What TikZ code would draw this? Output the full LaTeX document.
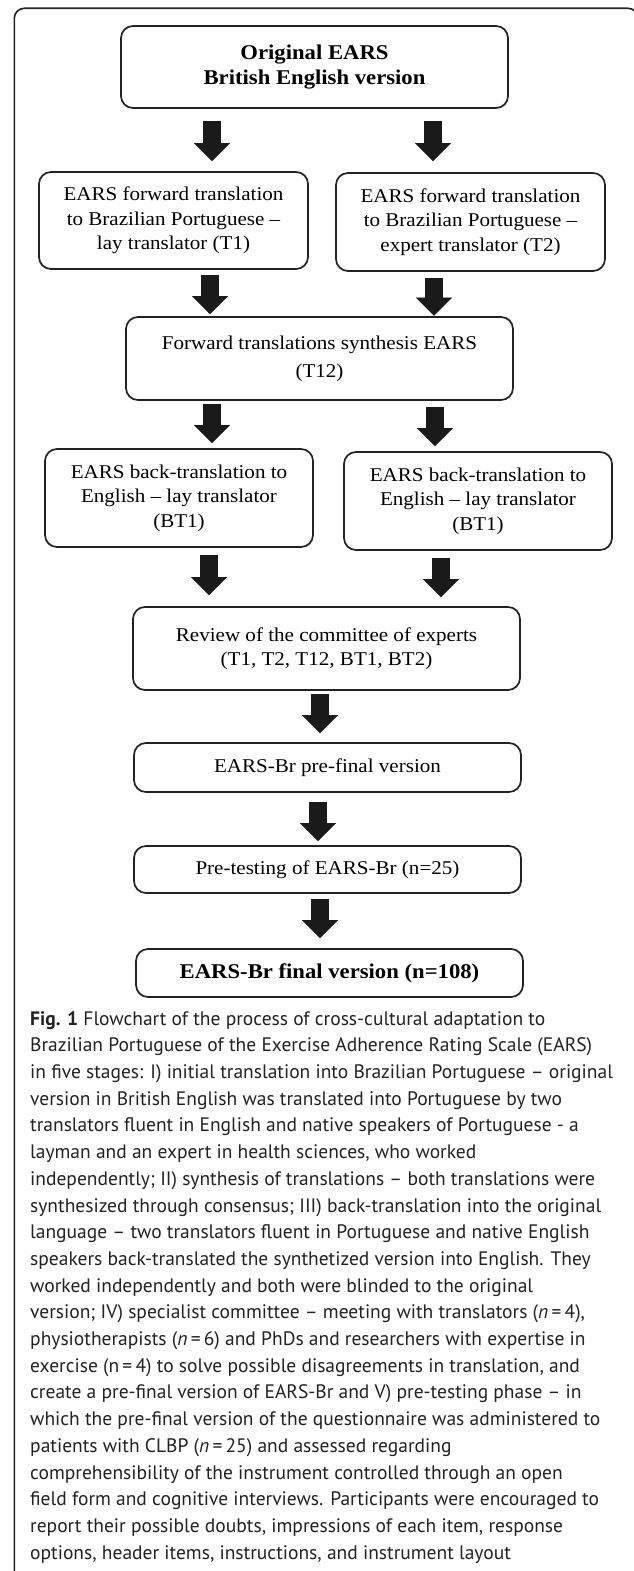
\documentclass[tikz,border=0pt]{standalone}
\usepackage{fontspec}
\setmainfont{Liberation Serif}
\newfontfamily\boxfont[FakeStretch=1.08,Ligatures=TeX]{Liberation Serif}
\newfontfamily\capfont{PT Sans}
\usetikzlibrary{arrows.meta}
\definecolor{ink}{HTML}{1A1A1A}
\definecolor{edge}{HTML}{222222}
\definecolor{captxt}{HTML}{222222}
\begin{document}
\begin{tikzpicture}[x=1pt,y=-1pt,
  box/.style={draw=edge, line width=1.7pt, rounded corners=12pt, inner sep=0pt, align=center,
    font=\boxfont\fontsize{19.5}{24.5}\selectfont},
  boldbox/.style={box, font=\boxfont\bfseries\fontsize{21}{25}\selectfont},
  blk/.style={draw=ink, line width=18pt, -{Triangle[width=36pt,length=18pt,line width=0.01pt,fill=ink]}},
  frame/.style={draw=edge, line width=1.6pt, rounded corners=10pt},
  captext/.style={anchor=north west, inner sep=0pt, align=left, text=captxt,
    font=\capfont\fontsize{19.5}{26.7}\selectfont}
]
\useasboundingbox (0,0) rectangle (633,1571);
\fill[white] (0,0) rectangle (633,1571);
\draw[frame] (14.3,1600) -- (14.3,8.3) -- (638,8.3) -- (638,1600);

\node[boldbox, minimum width=387pt, minimum height=82pt] (top) at (314.5,67) {Original EARS\\British English version};
\node[box, minimum width=269pt, minimum height=97pt] (t1) at (173.5,220.5) {EARS forward translation\\to Brazilian Portuguese –\\lay translator (T1)};
\node[box, minimum width=269pt, minimum height=98pt] (t2) at (470.5,222) {EARS forward translation\\to Brazilian Portuguese –\\expert translator (T2)};
\node[box, minimum width=387pt, minimum height=83pt] (t12) at (319.5,358.5) {Forward translations synthesis EARS\\[3.5pt](T12)};
\node[box, minimum width=268pt, minimum height=98pt] (bt1) at (179,498) {EARS back-translation to\\English – lay translator\\(BT1)};
\node[box, minimum width=268pt, minimum height=98pt] (bt2) at (478,501) {EARS back-translation to\\English – lay translator\\(BT1)};
\node[box, minimum width=387pt, minimum height=83pt] (rev) at (326.5,648.5) {Review of the committee of experts\\(T1, T2, T12, BT1, BT2)};
\node[box, minimum width=387pt, minimum height=49pt] (pre) at (327.5,767.5) {EARS-Br pre-final version};
\node[box, minimum width=387pt, minimum height=47pt] (ptest) at (327.5,869.5) {Pre-testing of EARS-Br (n=25)};
\node[boldbox, minimum width=387pt, minimum height=48pt] (fin) at (329.5,973) {EARS-Br final version (n=108)};

\coordinate (x1l) at (212,0);
\coordinate (x1r) at (433,0);
\coordinate (x2l) at (210,0);
\coordinate (x2r) at (434,0);
\coordinate (x3l) at (212,0);
\coordinate (x3r) at (435,0);
\coordinate (x4l) at (209,0);
\coordinate (x4r) at (441,0);
\coordinate (x5) at (320,0);
\coordinate (x6) at (318,0);
\coordinate (x7) at (320,0);

\draw[blk, shorten <=12pt, shorten >=10pt] (top.south -| x1l) -- (t1.north -| x1l);
\draw[blk, shorten <=12pt, shorten >=11pt] (top.south -| x1r) -- (t2.north -| x1r);
\draw[blk, shorten <=5pt, shorten >=2pt] (t1.south -| x2l) -- (t12.north -| x2l);
\draw[blk, shorten <=6pt, shorten >=0.5pt] (t2.south -| x2r) -- (t12.north -| x2r);
\draw[blk, shorten <=3pt, shorten >=5pt] (t12.south -| x3l) -- (bt1.north -| x3l);
\draw[blk, shorten <=6pt, shorten >=5pt] (t12.south -| x3r) -- (bt2.north -| x3r);
\draw[blk, shorten <=7pt, shorten >=11pt] (bt1.south -| x4l) -- (rev.north -| x4l);
\draw[blk, shorten <=7pt, shorten >=9pt] (bt2.south -| x4r) -- (rev.north -| x4r);
\draw[blk, shorten <=3pt, shorten >=9pt] (rev.south -| x5) -- (pre.north -| x5);
\draw[blk, shorten <=9pt, shorten >=4pt] (pre.south -| x6) -- (ptest.north -| x6);
\draw[blk, shorten <=5pt, shorten >=10pt] (ptest.south -| x7) -- (fin.north -| x7);

\node[captext] (cap) at (30,1011) {\textbf{Fig. 1} Flowchart of the process of cross-cultural adaptation to\\
Brazilian Portuguese of the Exercise Adherence Rating Scale (EARS)\\
in five stages: I) initial translation into Brazilian Portuguese – original\\
version in British English was translated into Portuguese by two\\
translators fluent in English and native speakers of Portuguese - a\\
layman and an expert in health sciences, who worked\\
independently; II) synthesis of translations – both translations were\\
synthesized through consensus; III) back-translation into the original\\
language – two translators fluent in Portuguese and native English\\
speakers back-translated the synthetized version into English. They\\
worked independently and both were blinded to the original\\
version; IV) specialist committee – meeting with translators (\textit{n}\,=\,4),\\
physiotherapists (\textit{n}\,=\,6) and PhDs and researchers with expertise in\\
exercise (n\,=\,4) to solve possible disagreements in translation, and\\
create a pre-final version of EARS-Br and V) pre-testing phase – in\\
which the pre-final version of the questionnaire was administered to\\
patients with CLBP (\textit{n}\,=\,25) and assessed regarding\\
comprehensibility of the instrument controlled through an open\\
field form and cognitive interviews. Participants were encouraged to\\
report their possible doubts, impressions of each item, response\\
options, header items, instructions, and instrument layout};
\end{tikzpicture}
\end{document}
